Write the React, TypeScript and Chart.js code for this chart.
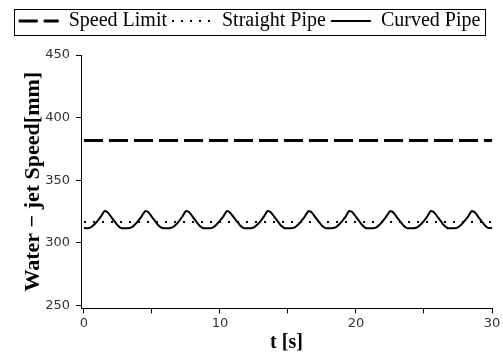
import React, { useEffect, useRef } from 'react';
import { Chart, registerables } from 'chart.js';

Chart.register(...registerables);

// ---- data ----
const seriesNames = ['Speed Limit', 'Straight Pipe', 'Curved Pipe'];
const timeRange = [0, 30];
const speedLimit = [381.7, 381.7];
const straightPipe = [316.6, 316.6];
const curvedTimeStep = 0.25; // s between readings
const curvedPipe = [
  311.8, 311.6, 312.2, 314.5, 317.5, 321.0, 325.3, 324.2, 320.6, 317.0, 313.6, 311.6,
  311.5, 311.6, 312.3, 314.6, 317.6, 321.2, 325.3, 324.1, 320.5, 316.9, 313.5, 311.7,
  311.5, 311.6, 312.2, 314.4, 317.5, 321.1, 325.4, 324.2, 320.6, 317.0, 313.5, 311.6,
  311.5, 311.6, 312.3, 314.6, 317.6, 321.0, 325.3, 324.0, 320.4, 316.9, 313.6, 311.7,
  311.5, 311.6, 312.2, 314.5, 317.5, 321.2, 325.4, 324.2, 320.6, 317.0, 313.5, 311.6,
  311.5, 311.6, 312.3, 314.5, 317.6, 321.1, 325.3, 324.1, 320.5, 316.9, 313.6, 311.7,
  311.5, 311.6, 312.2, 314.5, 317.5, 321.0, 325.4, 324.2, 320.6, 317.0, 313.5, 311.6,
  311.5, 311.6, 312.3, 314.6, 317.6, 321.2, 325.3, 324.1, 320.4, 316.9, 313.6, 311.7,
  311.5, 311.6, 312.2, 314.5, 317.5, 321.1, 325.4, 324.2, 320.6, 317.0, 313.5, 311.6,
  311.5, 311.6, 312.3, 314.5, 317.6, 321.0, 325.3, 324.1, 320.5, 316.9, 313.6, 311.7,
  311.8,
];
const xTickValues = [0, 5, 10, 15, 20, 25, 30];
const xTickLabels = ['0', '', '10', '', '20', '', '30'];
const yTickValues = [250, 300, 350, 400, 450];
const yTickLabels = ['250', '300', '350', '400', '450'];
const xTitle = 't [s]';
const yTitle = 'Water \u2212 jet Speed[mm]';

export default function App() {
  const canvasRef = useRef<HTMLCanvasElement | null>(null);

  useEffect(() => {
    document.body.style.margin = '0';
    const canvas = canvasRef.current;
    if (!canvas) return;

    const legendBox = {
      id: 'legendBox',
      beforeInit(chart: any) {
        const legend = chart.legend;
        if (legend) {
          const orig = legend.fit.bind(legend);
          legend.fit = function () {
            orig();
            this.height += 14;
          };
        }
      },
      afterDraw(chart: any) {
        const legend = chart.legend;
        if (!legend || !legend.legendHitBoxes || !legend.legendHitBoxes.length) return;
        const hb = legend.legendHitBoxes;
        let l = Infinity, r = -Infinity, t = Infinity, b = -Infinity;
        for (const h of hb) {
          l = Math.min(l, h.left);
          r = Math.max(r, h.left + h.width);
          t = Math.min(t, h.top);
          b = Math.max(b, h.top + h.height);
        }
        const ctx = chart.ctx;
        ctx.save();
        ctx.strokeStyle = '#000';
        ctx.lineWidth = 1;
        ctx.setLineDash([]);
        const x0 = Math.round(l - 5) + 0.5;
        const y0 = Math.round(t - 2) + 0.5;
        ctx.strokeRect(x0, y0, Math.round(r + 5) - Math.round(l - 5), Math.round(b + 4) - Math.round(t - 2));
        ctx.restore();
      },
    };

    const curvedData = curvedPipe.map((v, i) => ({ x: i * curvedTimeStep, y: v }));

    const chart = new Chart(canvas, {
      type: 'line',
      data: {
        datasets: [
          {
            label: seriesNames[0],
            data: timeRange.map((t, i) => ({ x: t, y: speedLimit[i] })),
            borderColor: '#000',
            backgroundColor: '#000',
            borderWidth: 3,
            borderDash: [19, 6],
            pointRadius: 0,
            tension: 0,
          },
          {
            label: seriesNames[1],
            data: timeRange.map((t, i) => ({ x: t, y: straightPipe[i] })),
            borderColor: '#000',
            backgroundColor: '#000',
            borderWidth: 2,
            borderDash: [2, 7],
            pointRadius: 0,
            tension: 0,
          },
          {
            label: seriesNames[2],
            data: curvedData,
            borderColor: '#000',
            backgroundColor: '#000',
            borderWidth: 2,
            pointRadius: 0,
            tension: 0.2,
          },
        ],
      },
      options: {
        responsive: false,
        animation: false,
        layout: { padding: { left: 7, right: 11, top: 6, bottom: 0 } },
        plugins: {
          tooltip: { enabled: false },
          legend: {
            position: 'top',
            labels: {
              usePointStyle: true,
              pointStyle: 'line',
              pointStyleWidth: 40,
              boxHeight: 20,
              padding: 5,
              color: '#000',
              font: { family: 'Liberation Serif', size: 20 },
              generateLabels(chart: any) {
                const items = (Chart.defaults.plugins.legend.labels as any).generateLabels(chart);
                items.forEach((it: any) => {
                  const ds: any = chart.data.datasets[it.datasetIndex];
                  it.lineDash = ds.borderDash || [];
                  it.lineWidth = ds.borderWidth;
                  it.strokeStyle = '#000';
                  it.fillStyle = '#000';
                  it.pointStyle = 'line';
                });
                return items;
              },
            },
          },
        },
        scales: {
          x: {
            type: 'linear',
            min: -0.22,
            max: 30,
            afterBuildTicks(scale: any) {
              scale.ticks = xTickValues.map((v) => ({ value: v }));
            },
            ticks: {
              autoSkip: false,
              maxRotation: 0,
              padding: 2,
              color: '#333',
              font: { family: 'DejaVu Sans', size: 13 },
              callback: (_v: any, i: number) => xTickLabels[i],
            },
            grid: { drawOnChartArea: false, drawTicks: true, tickLength: 5, color: '#000' },
            border: { display: true, color: '#000', width: 1 },
            title: {
              display: true,
              text: xTitle,
              color: '#000',
              padding: { top: 0, bottom: 0 },
              font: { family: 'Liberation Serif', size: 20, weight: 'bold', lineHeight: 1.0 },
            },
          },
          y: {
            type: 'linear',
            min: 247.5,
            max: 450,
            afterBuildTicks(scale: any) {
              scale.ticks = yTickValues.map((v) => ({ value: v }));
            },
            afterFit(scale: any) {
              scale.width = 74;
            },
            ticks: {
              autoSkip: false,
              padding: 6,
              color: '#333',
              font: { family: 'DejaVu Sans', size: 13 },
              callback: (_v: any, i: number) => yTickLabels[i],
            },
            grid: { drawOnChartArea: false, drawTicks: true, tickLength: 5, color: '#000' },
            border: { display: true, color: '#000', width: 1 },
            title: {
              display: true,
              text: yTitle,
              color: '#000',
              padding: { top: 13, bottom: 0 },
              font: { family: 'Liberation Serif', size: 22, weight: 'bold' },
            },
          },
        },
      },
      plugins: [legendBox],
    } as any);

    return () => chart.destroy();
  }, []);

  return (
    <div style={{ width: 503, height: 353, background: '#fff' }}>
      <canvas ref={canvasRef} width={503} height={353} />
    </div>
  );
}
